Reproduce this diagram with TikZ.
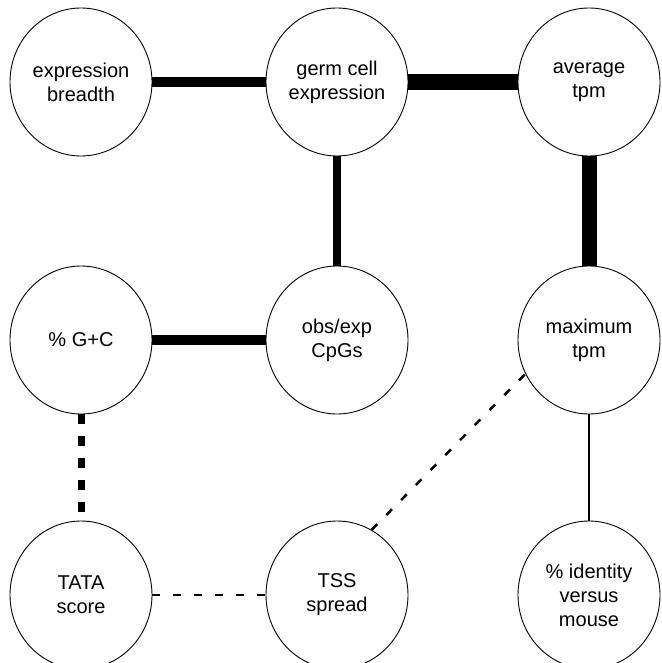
\documentclass[tikz,border=0pt]{standalone}
\usepackage{fontspec}
\setmainfont{Liberation Sans}
\usetikzlibrary{shapes.geometric}

\begin{document}
\begin{tikzpicture}[%
    x=1pt, y=-1pt,                          % Work in figure pixels, y going down
    font=\fontsize{20}{24}\selectfont,      % Labels in a plain sans face
    ]
% -------------------------------------------------
% Variable bubbles and the link styles between them
\tikzset{
  var/.style={draw, ellipse, line width=0.9pt, inner sep=0pt, align=center,
    minimum width=142pt, minimum height=148pt},
  link/.style={draw, line cap=butt},
  % Connector widths follow the strength of the association
  wide/.style={link, line width=16pt},
  broad/.style={link, line width=10pt},
  mid/.style={link, line width=8pt},
  thin/.style={link, line width=1.5pt},
  negwide/.style={link, line width=7pt, dash pattern=on 10pt off 12pt},
  negthin/.style={link, line width=2.5pt, dash pattern=on 8pt off 13pt}
}
\useasboundingbox (0,0) rectangle (661,663);
% -------------------------------------------------
% Start by placing the nodes on a 3 x 3 grid
\node [var] (eb)   at (81,82)   {expression\\breadth};
\node [var] (gc)   at (337,82)  {germ cell\\expression};
\node [var] (avg)  at (589,82)  {average\\tpm};
\node [var] (gcp)  at (81,340)  {\% G+C};
\node [var] (cpg)  at (337,340) {obs/exp\\CpGs};
\node [var] (max)  at (589,340) {maximum\\tpm};
\node [var] (tata) at (81,595)  {TATA\\score};
\node [var] (tss)  at (337,595) {TSS\\spread};
\node [var] (idm)  at (589,595) {\% identity\\versus\\mouse};

% Links
\draw [broad]   (eb) -- (gc);
\draw [wide]    (gc) -- (avg);
\draw [mid]     (gc) -- (cpg);
\draw [link, line width=15pt] (avg) -- (max);
\draw [broad]   (gcp) -- (cpg);
\draw [thin]    (max) -- (idm);
\draw [negwide] (gcp) -- (tata);
\draw [negthin] (tata) -- (tss);
\draw [negthin] (tss.62) -- (max.208);

% -------------------------------------------------
\end{tikzpicture}
\end{document}
